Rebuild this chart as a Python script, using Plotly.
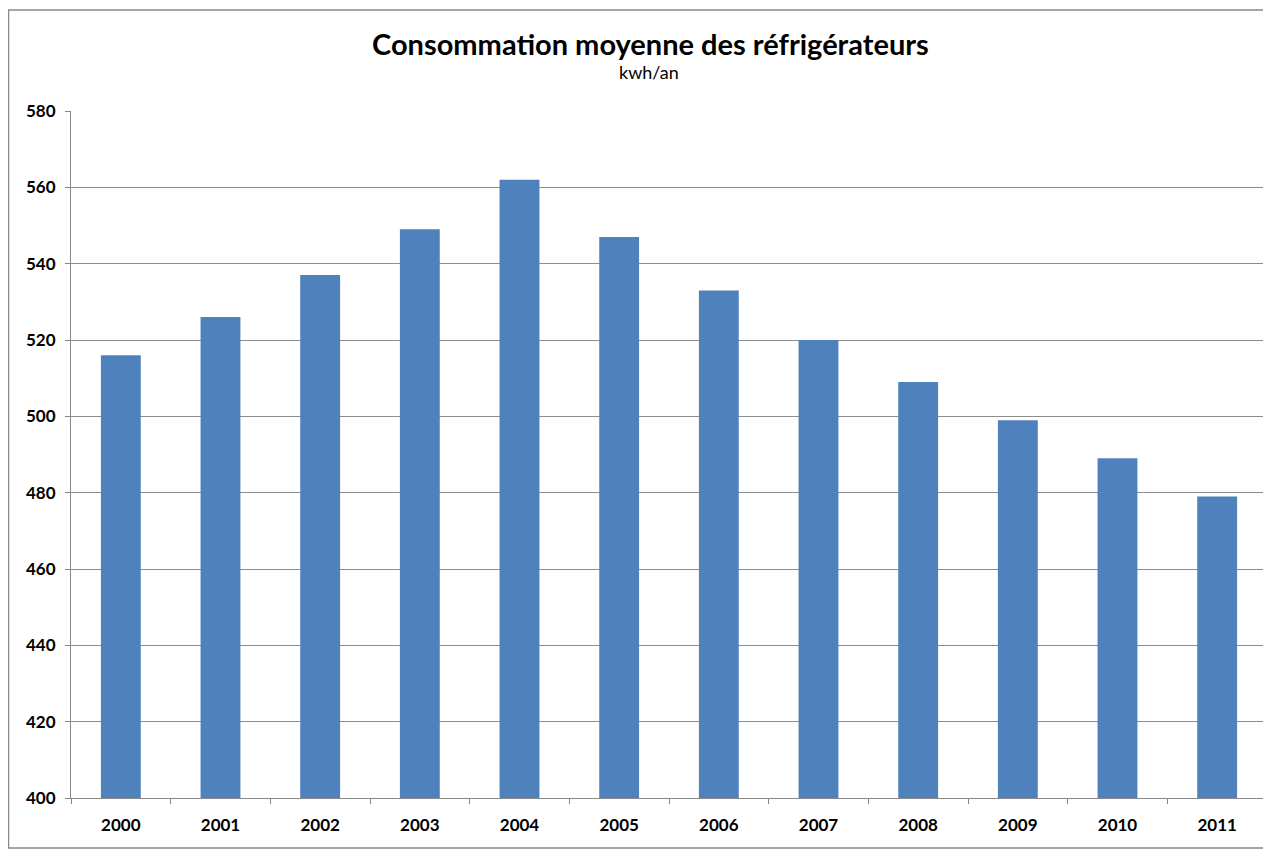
import plotly.graph_objects as go

years = ["2000", "2001", "2002", "2003", "2004", "2005", "2006", "2007", "2008", "2009", "2010", "2011"]
consommation = [516, 526, 537, 549, 562, 547, 533, 520, 509, 499, 489, 479]
y_ticks = [400, 420, 440, 460, 480, 500, 520, 540, 560, 580]

fig = go.Figure()
fig.add_trace(go.Bar(x=years, y=consommation, marker=dict(color="#4F81BD", line=dict(width=0)),
                     hoverinfo="x+y"))

# page body has an 8px margin: reference pixel p -> figure pixel p - 8
OFF = 8
W, H = 1271 - OFF, 850 - OFF
L, R, T = 71 - OFF, 4, 111 - OFF
B = H - (798 - OFF)
pw, ph = W - L - R, H - T - B

def px_x(p):
    return (p - OFF - L) / pw

def px_y(p):
    return (H - B - (p - OFF)) / ph

font = "Lato, 'Open Sans', sans-serif"
fig.update_layout(
    width=W, height=H,
    margin=dict(l=L, r=R, t=T, b=B),
    paper_bgcolor="white", plot_bgcolor="white",
    bargap=0.6, showlegend=False,
    font=dict(family=font, color="black"),
    xaxis=dict(type="category", showgrid=False, showline=True, linecolor="#888888", linewidth=1,
               ticks="outside", tickson="boundaries", ticklen=5, tickcolor="#888888",
               ticklabelstandoff=12,
               tickfont=dict(size=17, family=font, color="black", weight="bold")),
    yaxis=dict(range=[400, 580], tickvals=y_ticks, showgrid=True, gridcolor="#8c8c8c", gridwidth=1,
               showline=True, linecolor="#888888", linewidth=1, ticks="outside", ticklen=5,
               tickcolor="#888888", zeroline=False, ticklabelstandoff=6,
               tickfont=dict(size=17, family=font, color="black", weight="bold")),
    annotations=[
        dict(text="<b>Consommation moyenne des réfrigérateurs</b>", xref="paper", yref="paper",
             x=px_x(650), y=px_y(44), xanchor="center", yanchor="middle", showarrow=False,
             font=dict(size=29, family=font, color="black")),
        dict(text="kwh/an", xref="paper", yref="paper",
             x=px_x(649), y=px_y(72), xanchor="center", yanchor="middle", showarrow=False,
             font=dict(size=18, family=font, color="black")),
    ],
    shapes=[dict(type="rect", xref="paper", yref="paper", x0=px_x(8.5), x1=px_x(1400),
                 y0=px_y(848), y1=px_y(10), line=dict(color="#888888", width=1.5), layer="below")],
)

fig.write_html("out.html")
